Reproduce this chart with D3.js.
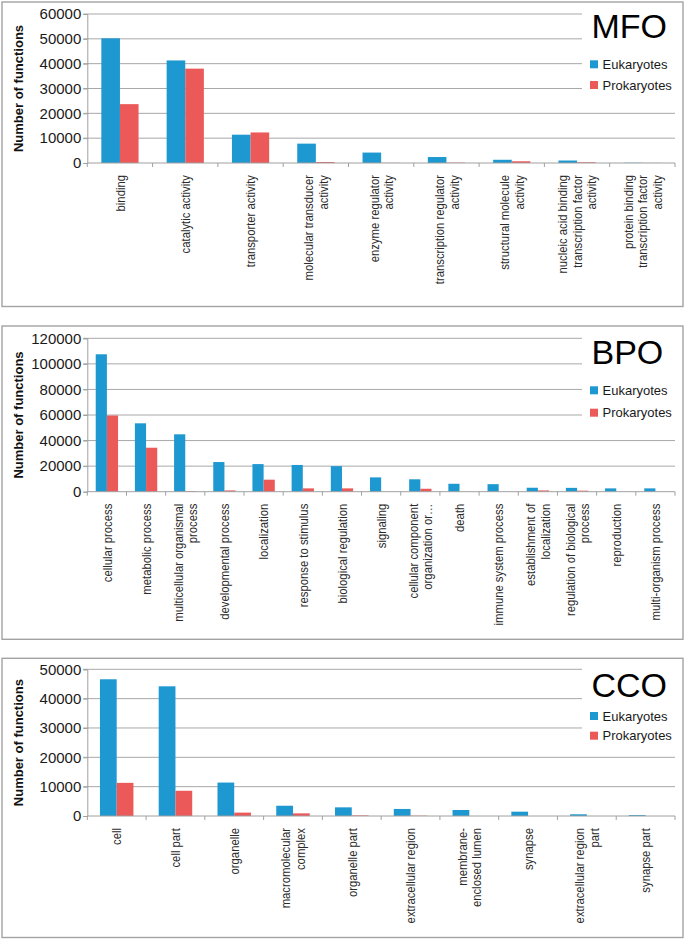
<!DOCTYPE html>
<html>
<head>
<meta charset="utf-8">
<script src="https://cdn.jsdelivr.net/npm/d3@7"></script>
<style>
  html, body { margin: 0; padding: 0; background: #fff; }
  svg { display: block; }
</style>
</head>
<body>
<div id="chart"></div>
<script>
// ---------- DATA ----------
const seriesNames = ["Eukaryotes", "Prokaryotes"];

const mfoCategories = ["binding", "catalytic activity", "transporter activity",
  "molecular transducer\nactivity", "enzyme regulator\nactivity", "transcription regulator\nactivity",
  "structural molecule\nactivity", "nucleic acid binding\ntranscription factor\nactivity",
  "protein binding\ntranscription factor\nactivity"];
const mfoEukaryotes  = [50200, 41300, 11400, 7800, 4200, 2400, 1300, 1000, 100];
const mfoProkaryotes = [23700, 38000, 12300, 400, 60, 150, 700, 300, 50];
const mfoTicks = [0, 10000, 20000, 30000, 40000, 50000, 60000];

const bpoCategories = ["cellular process", "metabolic process", "multicellular organismal\nprocess",
  "developmental process", "localization", "response to stimulus", "biological regulation",
  "signaling", "cellular component\norganization or…", "death", "immune system process",
  "establishment of\nlocalization", "regulation of biological\nprocess", "reproduction",
  "multi-organism process"];
const bpoEukaryotes  = [107500, 53500, 44900, 23200, 21600, 20900, 20000, 11200, 9700, 6200, 5900, 3100, 3000, 2600, 2600];
const bpoProkaryotes = [59600, 34400, 500, 1000, 9400, 2600, 2600, 0, 2300, 0, 0, 1000, 800, 0, 0];
const bpoTicks = [0, 20000, 40000, 60000, 80000, 100000, 120000];

const ccoCategories = ["cell", "cell part", "organelle", "macromolecular\ncomplex", "organelle part",
  "extracellular region", "membrane-\nenclosed lumen", "synapse", "extracellular region\npart", "synapse part"];
const ccoEukaryotes  = [46600, 44200, 11400, 3500, 2950, 2400, 2050, 1470, 580, 300];
const ccoProkaryotes = [11300, 8600, 1150, 900, 200, 100, 0, 0, 0, 0];
const ccoTicks = [0, 10000, 20000, 30000, 40000, 50000];

// ---------- LAYOUT ----------
const W = 685, H = 939;
const colors = { "Eukaryotes": "#1e98d0", "Prokaryotes": "#eb5959" };
const plotLeft = 87.3, plotRight = 675, legendLeft = 582;

const panels = [
  { title: "MFO", cats: mfoCategories, eu: mfoEukaryotes, pro: mfoProkaryotes, ticks: mfoTicks,
    frame: [2, 2, 683, 306.5], top: 14, zero: 163, titleY: 38, legY: [64.3, 85], legBottom: 100 },
  { title: "BPO", cats: bpoCategories, eu: bpoEukaryotes, pro: bpoProkaryotes, ticks: bpoTicks,
    frame: [2, 326, 683, 639.3], top: 338.3, zero: 491.7, titleY: 363.5, legY: [390.3, 412.7], legBottom: 428 },
  { title: "CCO", cats: ccoCategories, eu: ccoEukaryotes, pro: ccoProkaryotes, ticks: ccoTicks,
    frame: [2, 658.3, 683, 937.5], top: 669.3, zero: 816, titleY: 696.5, legY: [716, 735.7], legBottom: 745 }
];

const svg = d3.select("#chart").append("svg")
  .attr("width", W).attr("height", H)
  .style("font-family", "'Liberation Sans', Arial, sans-serif");

svg.append("rect").attr("width", W).attr("height", H).attr("fill", "#fff");

panels.forEach(p => {
  const g = svg.append("g");
  const [fx0, fy0, fx1, fy1] = p.frame;
  g.append("rect").attr("x", fx0).attr("y", fy0)
    .attr("width", fx1 - fx0).attr("height", fy1 - fy0)
    .attr("fill", "#fff").attr("stroke", "#a3a3a3").attr("stroke-width", 1.4);

  const yMax = d3.max(p.ticks);
  const y = d3.scaleLinear().domain([0, yMax]).range([p.zero, p.top]);
  const x = d3.scaleBand().domain(p.cats).range([plotLeft, plotRight])
    .paddingInner(0.43).paddingOuter(0.215);
  const xs = d3.scaleBand().domain(seriesNames).range([0, x.bandwidth()]);
  const step = x.step();

  // gridlines
  g.append("g").selectAll("line").data(p.ticks.filter(t => t > 0)).join("line")
    .attr("x1", plotLeft - 4)
    .attr("x2", t => y(t) < p.legBottom ? legendLeft : plotRight)
    .attr("y1", t => y(t)).attr("y2", t => y(t))
    .attr("stroke", "#a8a8a8").attr("stroke-width", 1);

  // y axis
  const yAxis = d3.axisLeft(y).tickValues(p.ticks).tickSize(4).tickPadding(2).tickFormat(d3.format("d"));
  const ya = g.append("g").attr("transform", `translate(${plotLeft},0)`).call(yAxis);
  ya.select(".domain").attr("stroke", "#a0a0a0");
  ya.selectAll(".tick line").attr("stroke", "#a0a0a0");
  ya.selectAll(".tick text").attr("fill", "#1a1a1a")
    .style("font-size", "15px").style("font-family", "'Liberation Sans', Arial, sans-serif");

  // bars
  const rows = p.cats.map((c, i) => ({ cat: c, vals: [
    { s: "Eukaryotes", v: p.eu[i] }, { s: "Prokaryotes", v: p.pro[i] }] }));
  const grp = g.append("g").selectAll("g").data(rows).join("g")
    .attr("transform", d => `translate(${x(d.cat)},0)`);
  grp.selectAll("rect").data(d => d.vals).join("rect")
    .attr("x", d => xs(d.s)).attr("width", xs.bandwidth())
    .attr("y", d => y(d.v)).attr("height", d => y(0) - y(d.v))
    .attr("fill", d => colors[d.s]);

  // x axis line and boundary ticks
  g.append("line").attr("x1", plotLeft).attr("x2", plotRight)
    .attr("y1", p.zero).attr("y2", p.zero).attr("stroke", "#a0a0a0");
  const bounds = d3.range(p.cats.length + 1).map(i => plotLeft + i * step);
  g.append("g").selectAll("line").data(bounds).join("line")
    .attr("x1", d => d).attr("x2", d => d)
    .attr("y1", p.zero).attr("y2", p.zero + 4)
    .attr("stroke", "#a0a0a0");

  // category labels (rotated)
  p.cats.forEach(c => {
    const lines = c.split("\n");
    const cx = x(c) + x.bandwidth() / 2;
    lines.forEach((ln, i) => {
      const lx = cx + (i - (lines.length - 1) / 2) * 14.6;
      g.append("text")
        .attr("transform", `translate(${lx},${p.zero + 12}) rotate(-90) scale(1,1.2)`)
        .attr("text-anchor", "end")
        .attr("dy", "0.35em")
        .attr("fill", "#2a2a2a")
        .style("font-size", "11.3px")
        .text(ln);
    });
  });

  // y title
  g.append("text")
    .attr("transform", `translate(18,${(p.top + p.zero) / 2}) rotate(-90)`)
    .attr("text-anchor", "middle").attr("dy", "0.35em")
    .style("font-size", "13px").style("font-weight", "bold").attr("fill", "#111")
    .text("Number of functions");

  // panel title
  g.append("text").attr("x", 591.5).attr("y", p.titleY)
    .style("font-size", "34px").attr("fill", "#000").text(p.title);

  // legend
  seriesNames.forEach((s, i) => {
    const ly = p.legY[i];
    g.append("rect").attr("x", 590).attr("y", ly - 4).attr("width", 8).attr("height", 8)
      .attr("fill", colors[s]);
    g.append("text").attr("x", 602.5).attr("y", ly).attr("dy", "0.35em")
      .style("font-size", "13px").attr("fill", "#1a1a1a").text(s);
  });
});
</script>
</body>
</html>
